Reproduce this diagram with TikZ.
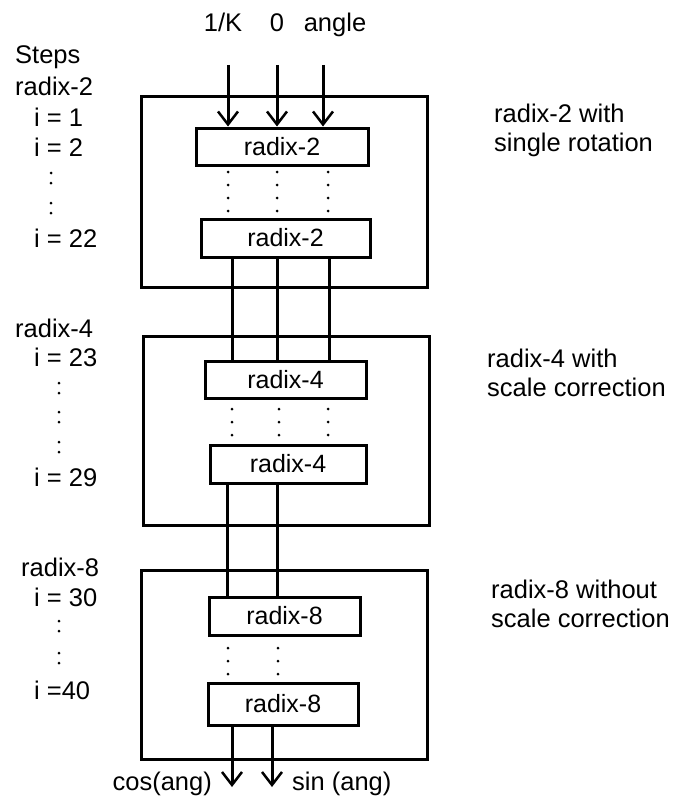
\documentclass[tikz,border=0pt]{standalone}
\usepackage{fontspec}
\setmainfont{Liberation Sans}
\usetikzlibrary{arrows.meta}
\begin{document}
\begin{tikzpicture}[x=1pt,y=-1pt,
  lw/.style={line width=3pt},
  stage/.style={draw,lw,minimum width=286pt,inner sep=0pt},
  unit/.style={draw,lw,inner sep=0pt,font=\fontsize{25}{29}\selectfont},
  lbl/.style={inner sep=0pt,font=\fontsize{25.5}{29}\selectfont},
  conn/.style={lw},
  dotl/.style={line width=3pt,dash pattern=on 0pt off 13pt,line cap=round},
  arr/.style={lw,-{Straight Barb[length=13pt,width=20pt,line width=2.5pt]}}
]
\useasboundingbox[fill=white] (0,0) rectangle (673,797);

% stage frames
\node[stage,minimum height=190pt] (S1) at (284,192) {};
\node[stage,minimum height=189pt] (S2) at (286,430.5) {};
\node[stage,minimum height=189pt] (S3) at (284.5,664.5) {};

% units
\node[unit,minimum width=172pt,minimum height=37pt] (A) at (282,146.5) {radix-2};
\node[unit,minimum width=169pt,minimum height=38pt] (B) at (285.5,238) {radix-2};
\node[unit,minimum width=161pt,minimum height=37pt] (C) at (285.5,379.5) {radix-4};
\node[unit,minimum width=156pt,minimum height=38pt] (D) at (288,464) {radix-4};
\node[unit,minimum width=151pt,minimum height=38pt] (E) at (284.5,616) {radix-8};
\node[unit,minimum width=150pt,minimum height=42pt] (F) at (283,704) {radix-8};

% top labels
\node[lbl,anchor=base] (k) at (223,32) {1/K};
\node[lbl,anchor=base] (z) at (277,32) {0};
\node[lbl,anchor=base] (ang) at (335,32) {angle};

% inputs
\coordinate (i1) at (228,65);
\coordinate (i2) at (277,65);
\coordinate (i3) at (323,65);
\draw[arr] (i1) -- (i1 |- A.north);
\draw[arr] (i2) -- (i2 |- A.north);
\draw[arr] (i3) -- (i3 |- A.north);

% dotted continuations
\draw[dotl] (228,172) -- (228,212);
\draw[dotl] (277,172) -- (277,212);
\draw[dotl] (328,172) -- (328,212);
\draw[dotl] (232,409) -- (232,438);
\draw[dotl] (279,409) -- (279,438);
\draw[dotl] (328,409) -- (328,438);
\draw[dotl] (228,648) -- (228,676);
\draw[dotl] (278,648) -- (278,676);

% connectors between units
\coordinate (b1) at (232,257);
\coordinate (b2) at (277,257);
\coordinate (b3) at (329,257);
\draw[conn] (b1 |- B.south) -- (b1 |- C.north);
\draw[conn] (b2 |- B.south) -- (b2 |- C.north);
\draw[conn] (b3 |- B.south) -- (b3 |- C.north);
\coordinate (d1) at (227,483);
\coordinate (d2) at (277,483);
\draw[conn] (d1 |- D.south) -- (d1 |- E.north);
\draw[conn] (d2 |- D.south) -- (d2 |- E.north);

% outputs
\coordinate (o1) at (232,787);
\coordinate (o2) at (272,787);
\draw[arr] (o1 |- F.south) -- (o1);
\draw[arr] (o2 |- F.south) -- (o2);
\node[lbl,anchor=east] (cos) at (212,784) {cos(ang)};
\node[lbl,anchor=west] (sin) at (292,784) {sin (ang)};

% left step labels
\node[lbl,anchor=west] (st) at (15,57) {Steps};
\node[lbl,anchor=west] (r2) at (15,86) {radix-2};
\node[lbl,anchor=west] (i1l) at (34,117) {i = 1};
\node[lbl,anchor=west] (i2l) at (34,147) {i = 2};
\node[lbl,anchor=west] (i22l) at (34,238) {i = 22};
\draw[dotl,dash pattern=on 0pt off 10pt] (51,173) -- (51,184);
\draw[dotl,dash pattern=on 0pt off 10pt] (51,203) -- (51,214);

\node[lbl,anchor=west] (r4) at (15,328) {radix-4};
\node[lbl,anchor=west] (i23l) at (34,357) {i = 23};
\node[lbl,anchor=west] (i29l) at (34,477) {i = 29};
\draw[dotl,dash pattern=on 0pt off 10pt] (59,383) -- (59,394);
\draw[dotl,dash pattern=on 0pt off 10pt] (59,412) -- (59,423);
\draw[dotl,dash pattern=on 0pt off 10pt] (59,442) -- (59,453);

\node[lbl,anchor=west] (r8) at (21,567) {radix-8};
\node[lbl,anchor=west] (i30l) at (34,597) {i = 30};
\node[lbl,anchor=west] (i40l) at (34,690) {i =40};
\draw[dotl,dash pattern=on 0pt off 10pt] (59,621) -- (59,632);
\draw[dotl,dash pattern=on 0pt off 10pt] (59,653) -- (59,664);

% right descriptions
\node[lbl,anchor=north west,align=left] (d2r) at (494,104) {radix-2 with\\single rotation};
\node[lbl,anchor=north west,align=left] (d4r) at (487,349) {radix-4 with\\scale correction};
\node[lbl,anchor=north west,align=left] (d8r) at (491,580) {radix-8 without\\scale correction};
\end{tikzpicture}
\end{document}
